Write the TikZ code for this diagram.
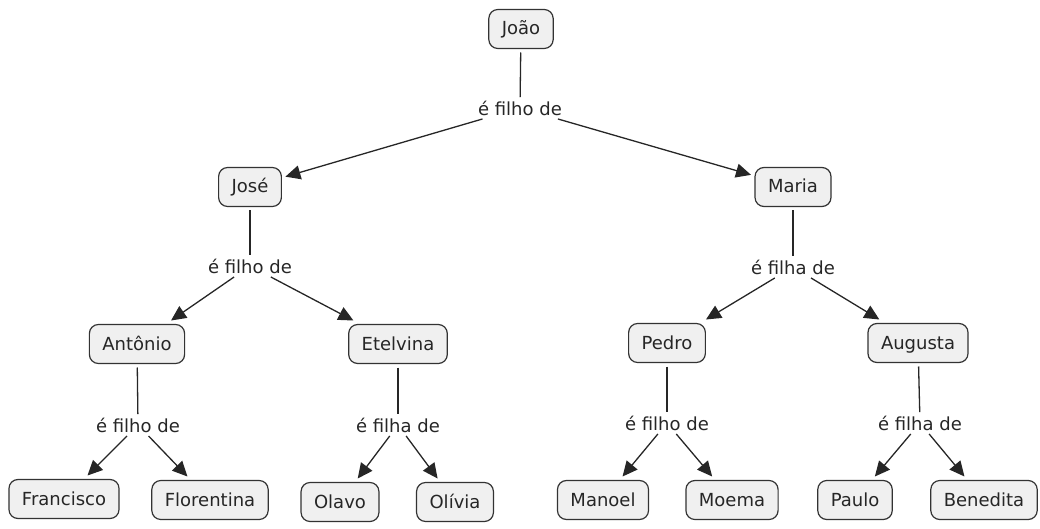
\documentclass[tikz,border=0pt]{standalone}
\usepackage{fontspec}
\setmainfont{DejaVu Sans}
\usetikzlibrary{arrows.meta}

\begin{document}
\begin{tikzpicture}[x=1pt,y=-1pt,line width=1.3pt,draw=black!85,
  >={Triangle[length=15pt,width=14pt]},
  concept/.style={rectangle,rounded corners=9pt,draw=black!80,fill=black!6,line width=1.2pt,
    inner xsep=13pt,minimum height=39pt,text height=13pt,text depth=1pt,outer sep=4pt,
    font=\fontsize{18}{22}\selectfont,text=black!85},
  link/.style={inner sep=3pt,font=\fontsize{18}{22}\selectfont,text=black!85}]
\useasboundingbox (0,0) rectangle (1040,529);
\node [concept] (joao) at (521,29) {João};
\node [link] (ljoao) at (520,108) {é filho de};
\node [concept] (jose) at (250,187) {José};
\node [concept] (maria) at (793,187) {Maria};
\node [link] (ljose) at (250,266) {é filho de};
\node [link] (lmaria) at (793,267) {é filha de};
\node [concept] (antonio) at (137,344) {Antônio};
\node [concept] (etelvina) at (398,344) {Etelvina};
\node [concept] (pedro) at (667,343) {Pedro};
\node [concept] (augusta) at (918,343) {Augusta};
\node [link] (lantonio) at (138,425) {é filho de};
\node [link] (letelvina) at (398,425) {é filha de};
\node [link] (lpedro) at (667,423) {é filho de};
\node [link] (laugusta) at (920,423) {é filha de};
\node [concept] (francisco) at (64,499) {Francisco};
\node [concept] (florentina) at (210,500) {Florentina};
\node [concept] (olavo) at (340,502) {Olavo};
\node [concept] (olivia) at (455,502) {Olívia};
\node [concept] (manoel) at (603,500) {Manoel};
\node [concept] (moema) at (732,500) {Moema};
\node [concept] (paulo) at (855,500) {Paulo};
\node [concept] (benedita) at (984,500) {Benedita};

\draw (joao) -- (ljoao);
\draw[->] (ljoao) -- (jose);
\draw[->] (ljoao) -- (maria);
\draw (jose) -- (ljose);
\draw[->] (ljose) -- (antonio);
\draw[->] (ljose) -- (etelvina);
\draw (maria) -- (lmaria);
\draw[->] (lmaria) -- (pedro);
\draw[->] (lmaria) -- (augusta);
\draw (antonio) -- (lantonio);
\draw[->] (lantonio) -- (francisco);
\draw[->] (lantonio) -- (florentina);
\draw (etelvina) -- (letelvina);
\draw[->] (letelvina) -- (olavo);
\draw[->] (letelvina) -- (olivia);
\draw (pedro) -- (lpedro);
\draw[->] (lpedro) -- (manoel);
\draw[->] (lpedro) -- (moema);
\draw (augusta) -- (laugusta);
\draw[->] (laugusta) -- (paulo);
\draw[->] (laugusta) -- (benedita);
\end{tikzpicture}
\end{document}
